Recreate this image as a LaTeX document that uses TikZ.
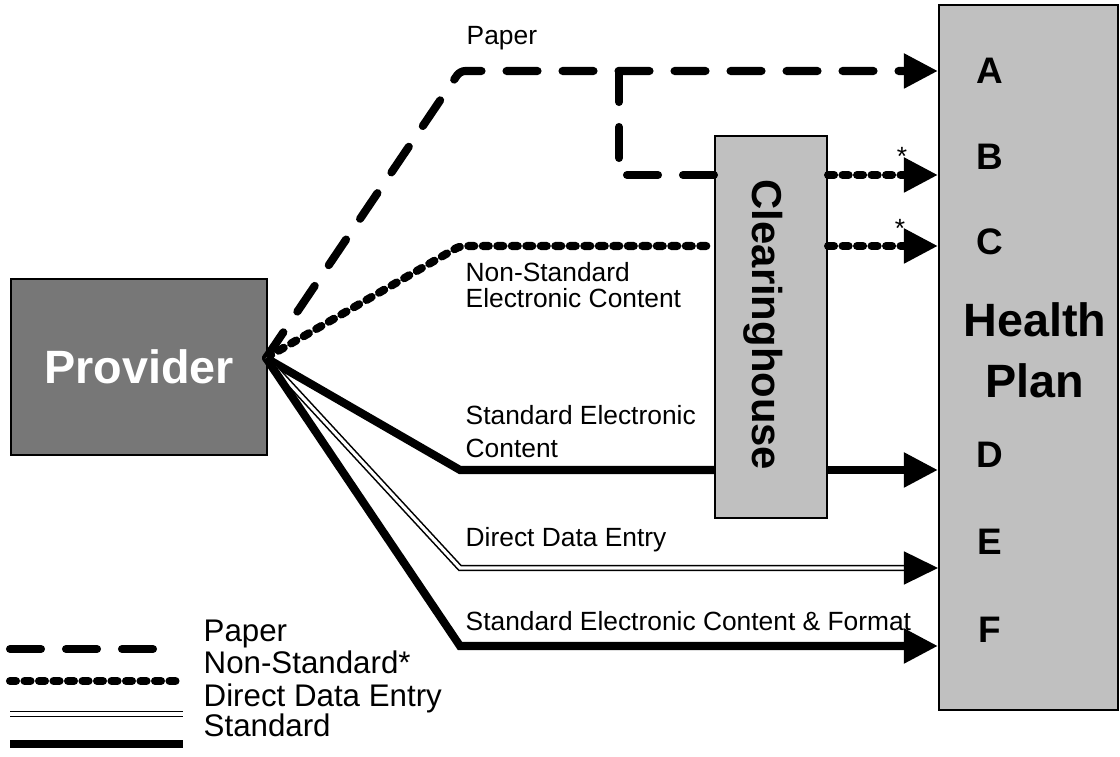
\documentclass[tikz,border=0pt]{standalone}
\usepackage{fontspec}
\setmainfont{Liberation Sans}
\usetikzlibrary{arrows.meta}
\definecolor{provgray}{RGB}{119,119,119}
\definecolor{boxgray}{RGB}{192,192,192}
\tikzset{
  paper/.style={line width=2.3pt, line cap=round, dash pattern=on 0.31cm off 0.25cm},
  nonstd/.style={line width=2.3pt, line cap=round, dash pattern=on 0.06cm off 0.085cm},
  dde/.style={double, line width=0.45pt, double distance=0.9pt},
  std/.style={line width=2.3pt},
  arrowin/.style={-{Triangle[length=0.34cm, width=0.33cm]}},
}

\begin{document}
\begin{tikzpicture}
\tikzstyle{box}=[draw, line width=0.6pt, inner sep=0pt]
\tikzstyle{tag}=[anchor=base west, inner sep=0pt, font=\fontsize{7.5}{9}\selectfont]
\tikzstyle{keytext}=[anchor=base west, inner sep=0pt, font=\fontsize{8.9}{10}\selectfont]
\tikzstyle{letter}=[inner sep=0pt, font=\fontsize{10.5}{12}\selectfont\bfseries]
\useasboundingbox (0,0) rectangle (11.2,7.57);

% boxes
\node[box, fill=provgray, minimum width=2.56cm, minimum height=1.76cm, text=white,
      font=\fontsize{13.3}{15}\selectfont\bfseries] (provider) at (1.39,3.90) {Provider};
\node[box, fill=boxgray, minimum width=1.79cm, minimum height=7.05cm] (plan) at (10.285,3.995) {};
\node[box, fill=boxgray, minimum width=1.12cm, minimum height=3.82cm] (clearing) at (7.71,4.30) {};
\node[rotate=-90, inner sep=0pt, font=\fontsize{11.9}{13}\selectfont\bfseries] (clearname) at (7.63,4.32) {Clearinghouse};

% health plan text
\node[letter] (lA) at (9.90,6.86) {A};
\node[letter] (lB) at (9.90,6.00) {B};
\node[letter] (lC) at (9.90,5.15) {C};
\node[align=center, inner sep=0pt, font=\fontsize{13.3}{17.4}\selectfont\bfseries] (planname) at (10.35,4.07) {Health\\Plan};
\node[letter] (lD) at (9.90,3.02) {D};
\node[letter] (lE) at (9.90,2.15) {E};
\node[letter] (lF) at (9.90,1.27) {F};

% routes
\coordinate (hub) at (2.66,3.99);
\coordinate (bendA) at (4.60,6.86);
\coordinate (splitB) at (6.19,6.86);
\coordinate (cornerB) at (6.19,5.82);
\coordinate (bendC) at (4.60,5.11);
\coordinate (bendD) at (4.60,2.87);
\coordinate (bendE) at (4.60,1.89);
\coordinate (bendF) at (4.60,1.11);
\coordinate (endE) at (plan.west |- bendE);

\draw[paper, arrowin, rounded corners=1.5pt] (hub) -- (bendA) -- (plan.west |- bendA);
\draw[paper] (splitB) -- (cornerB) -- (clearing.west |- cornerB);
\draw[nonstd, arrowin] (clearing.east |- cornerB) -- (plan.west |- cornerB);
\draw[nonstd, rounded corners=1.5pt] (hub) -- (bendC) -- (clearing.west |- bendC);
\draw[nonstd, arrowin] (clearing.east |- bendC) -- (plan.west |- bendC);
\draw[std] (hub) -- (bendD) -- (clearing.west |- bendD);
\draw[std, arrowin] (clearing.east |- bendD) -- (plan.west |- bendD);
\draw[dde] (hub) -- (bendE) -- ([xshift=-0.3cm]endE);
\draw[arrowin, line width=0.45pt] ([xshift=-0.34cm]endE) -- (endE);
\draw[std, arrowin] (hub) -- (bendF) -- (plan.west |- bendF);

% labels
\node[tag] (tpaper) at (4.66,7.12) {Paper};
\node[tag] (tnon1) at (4.65,4.75) {Non-Standard};
\node[tag] (tnon2) at (4.65,4.49) {Electronic Content};
\node[tag] (tstd1) at (4.65,3.32) {Standard Electronic};
\node[tag] (tstd2) at (4.65,2.99) {Content};
\node[tag] (tdde) at (4.65,2.10) {Direct Data Entry};
\node[tag] (tfmt) at (4.65,1.26) {Standard Electronic Content \& Format};
\node[inner sep=0pt, font=\fontsize{7.5}{9}\selectfont] (starB) at (9.02,6.01) {*};
\node[inner sep=0pt, font=\fontsize{7.5}{9}\selectfont] (starC) at (9.00,5.29) {*};

% key
\foreach \sty/\y/\xend/\txt [count=\i] in {paper/1.08/1.56/Paper, nonstd/0.76/1.83/Non-Standard*,
                                           dde/0.43/1.83/Direct Data Entry, std/0.13/1.83/Standard} {
  \coordinate (key\i l) at (0.10,\y);
  \coordinate (key\i r) at (\xend,\y);
  \draw[\sty] (key\i l) -- (key\i r);
  \node[keytext] (keytext\i) at (2.03,\y+0.07) {\txt};
}
\end{tikzpicture}
\end{document}
